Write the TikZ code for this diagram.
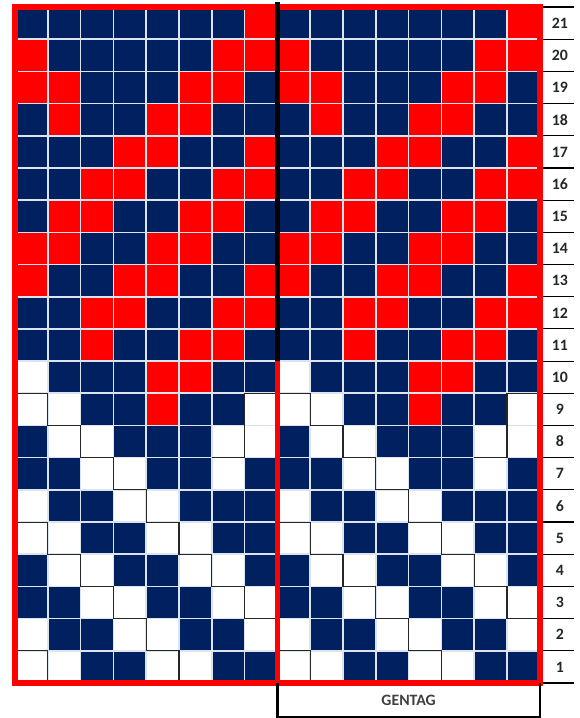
\documentclass[tikz,border=0pt]{standalone}
\usepackage{fontspec}
\setmainfont{Carlito}
\usepackage{xcolor}
\definecolor{cN}{HTML}{002060}
\definecolor{cR}{HTML}{FF0000}
\definecolor{cW}{HTML}{FFFFFF}
\definecolor{gridbd}{HTML}{DCE4EF}
\definecolor{numtext}{HTML}{262626}
\definecolor{tagtext}{HTML}{404040}

\begin{document}
\begin{tikzpicture}[
        x=0.984cm, y=0.9657cm,
        cell_line/.style={draw=gridbd, line width=1.4pt},
        stair_line/.style={draw=black!85, line width=0.9pt},
        red_frame/.style={draw=cR, line width=4.7pt},
        repeat_line/.style={draw=black, line width=4.3pt},
        row_rule/.style={draw=black, line width=1pt},
        row_label/.style={font=\fontsize{13.5}{15}\selectfont\bfseries, text=numtext},
        tag_box/.style={draw=black, line width=2.1pt},
        tag_label/.style={font=\fontsize{13.5}{15}\selectfont\bfseries, text=tagtext}
    ]
    \useasboundingbox (-0.457,-1.087) rectangle (17.219,21.218);

    % Chart cells, row by row (N = navy, R = red, W = white), both repeats
    \foreach \h in {0,8} {
        \foreach \r/\a/\b/\c/\d/\e/\f/\g/\k in {
            21/N/N/N/N/N/N/N/R, 20/R/N/N/N/N/N/R/R, 19/R/R/N/N/N/R/R/N,
            18/N/R/N/N/R/R/N/N, 17/N/N/N/R/R/N/N/R, 16/N/N/R/R/N/N/R/R,
            15/N/R/R/N/N/R/R/N, 14/R/R/N/N/R/R/N/N, 13/R/N/N/R/R/N/N/R,
            12/N/N/R/R/N/N/R/R, 11/N/N/R/N/N/R/R/N, 10/W/N/N/N/R/R/N/N,
            9/W/W/N/N/R/N/N/W, 8/N/W/W/N/N/N/W/W, 7/N/N/W/W/N/N/W/N,
            6/W/N/N/W/W/N/N/N, 5/W/W/N/N/W/W/N/N, 4/N/W/W/N/N/W/W/N,
            3/N/N/W/W/N/N/W/W, 2/W/N/N/W/W/N/N/W, 1/W/W/N/N/W/W/N/N} {
            \foreach \col [count=\i] in {\a,\b,\c,\d,\e,\f,\g,\k}
                \fill[fill=c\col] ({\h+\i-1},{\r-1}) rectangle ++(1,1);
        }
    }

    % Grid lines
    \foreach \x in {0,...,16}
        \draw[cell_line] (\x,0) -- (\x,21);
    \foreach \y in {0,...,21}
        \draw[cell_line] (0,\y) -- (16,\y);

    % Stepped borders in the white part
    \foreach \h in {0,8} {
        \begin{scope}[xshift=\h*0.984cm]
            \draw[stair_line] (0,9) -- (1,9) -- (1,8) -- (2,8) -- (2,7) -- (3,7) -- (3,6)
                -- (4,6) -- (4,5) -- (5,5) -- (5,4) -- (6,4) -- (6,3) -- (7,3) -- (7,2)
                -- (8,2) -- (8,1);
            \draw[stair_line] (0,1) -- (1,1) -- (1,0);
            \draw[stair_line] (0,5) -- (1,5) -- (1,4) -- (2,4) -- (2,3) -- (3,3) -- (3,2)
                -- (4,2) -- (4,1) -- (5,1) -- (5,0);
            \draw[stair_line] (8,9) -- (7,9) -- (7,7) -- (6,7);
        \end{scope}
    }

    % Frame and repeat divider
    \draw[red_frame] (0,0) rectangle (16,21);
    \draw[red_frame] (8,0) -- (8,10);
    \draw[repeat_line] (8,10) -- (8,21.15);

    % Row numbers
    \foreach \y in {0,...,21}
        \draw[row_rule] (16.09,\y) -- (17.04,\y);
    \foreach \r in {1,...,21}
        \node[row_label] (row\r) at (16.61,\r-0.5) {\r};

    % Repeat box
    \draw[tag_box] (8,0) -- (8,-1.05) -- (16,-1.05) -- (16,0);
    \node[tag_label] (gentag) at (12,-0.53) {GENTAG};

\end{tikzpicture}
\end{document}
